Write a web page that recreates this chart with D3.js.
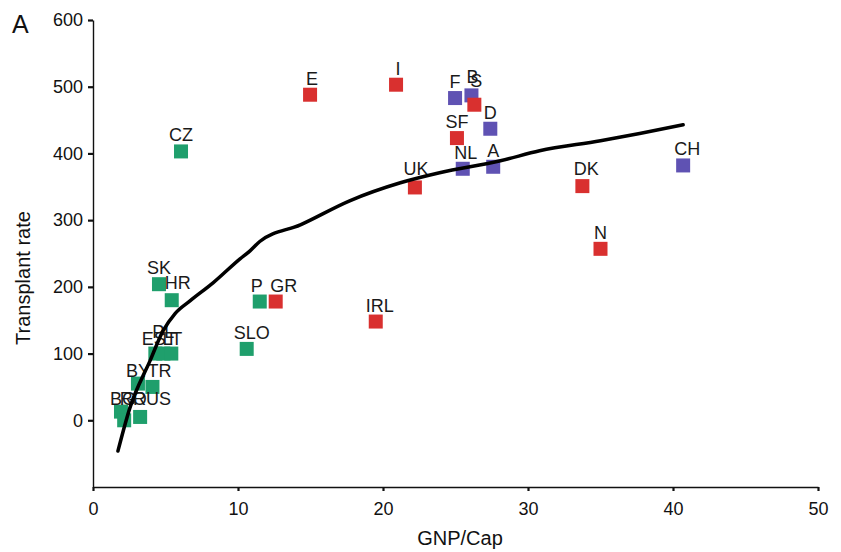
<!DOCTYPE html>
<html>
<head>
<meta charset="utf-8">
<script src="https://cdn.jsdelivr.net/npm/d3@7"></script>
<style>
  html, body { margin: 0; padding: 0; background: #fff; }
  svg { display: block; font-family: "Liberation Sans", Arial, Helvetica, sans-serif; }
</style>
</head>
<body>
<svg id="chart" width="841" height="552"></svg>
<script>
// ---- data ----
const countries = ["E","I","F","B","S","D","SF","NL","A","UK","DK","N","CH",
                   "CZ","SK","HR","P","GR","SLO","IRL",
                   "EST","PL","LT","BY","TR","BG","RO","RUS"];
const gnp   = [14.97, 20.9, 24.97, 26.1, 26.3, 27.4, 25.1, 25.5, 27.6, 22.2, 33.75, 35.0, 40.7,
               6.07, 4.55, 5.43, 11.5, 12.6, 10.6, 19.5,
               4.3, 4.85, 5.4, 3.1, 4.1, 1.93, 2.15, 3.25];
const rate  = [488, 503, 483, 487, 473, 437, 423, 377, 380, 349, 351, 257, 382,
               403, 204, 180, 178, 178, 107, 148,
               100, 100, 100, 55, 50, 13, 0, 5];
const group = ["red","red","blue","blue","red","blue","red","blue","blue","red","red","red","blue",
               "green","green","green","green","red","green","red",
               "green","green","green","green","green","green","green","green"];
const groupColor = { red: "#d9302f", green: "#1f9f6c", blue: "#5f52b3" };

// fitted curve
const curveX = [1.72, 2.55, 3.93, 4.83, 5.66, 6.69, 8.28, 10.14, 10.83, 11.5, 14.3, 17.7, 21.2, 23.9, 28.1, 30.8, 35.0, 37.7, 40.7];
const curveY = [-46, 19, 89, 134, 160, 179, 206, 242, 254, 268, 293, 329, 356, 371, 389, 404, 419, 430, 443];

const xTicks = [0, 10, 20, 30, 40, 50];
const yTicks = [0, 100, 200, 300, 400, 500, 600];

// label nudges (layout only, px)
const labelNudge = {
  E: [2, 0], I: [2, 0], B: [1, -2], S: [2, -8], NL: [3, 0], DK: [4, -1], CH: [4, 0],
  P: [-3, 0], GR: [8, 0], IRL: [4, 0], SLO: [5, 0], HR: [6, -1], UK: [1, -2],
  EST: [4, 1], PL: [0, -6], LT: [1, 1], BY: [0, 3], TR: [7, 0],
  BG: [2, 3], RO: [9, -5], RUS: [12, -2]
};

// ---- chart ----
const svg = d3.select("#chart");
const x = d3.scaleLinear().domain([0, 50]).range([93, 818]);
const y = d3.scaleLinear().domain([-100, 600]).range([487, 20]);

// axes
const xAxis = svg.append("g")
  .attr("transform", `translate(0,${y(-100)})`)
  .call(d3.axisBottom(x).tickValues(xTicks).tickSize(4).tickSizeOuter(0).tickPadding(11));
const yAxis = svg.append("g")
  .attr("transform", `translate(${x(0)},0)`)
  .call(d3.axisLeft(y).tickValues(yTicks).tickSize(5).tickSizeOuter(0).tickPadding(5));
[xAxis, yAxis].forEach(g => {
  g.select(".domain").attr("stroke", "#111").attr("stroke-width", 1.4);
  g.selectAll(".tick line").attr("stroke", "#111").attr("stroke-width", 2.2);
  g.selectAll(".tick text").attr("fill", "#111")
    .style("font-size", "18px").style("font-family", "'Liberation Sans', Arial, sans-serif");
});

// titles
svg.append("text").attr("x", 460).attr("y", 545).attr("text-anchor", "middle")
  .attr("fill", "#111").style("font-size", "20px").text("GNP/Cap");
svg.append("text").attr("transform", "translate(30,278) rotate(-90)").attr("text-anchor", "middle")
  .attr("fill", "#111").style("font-size", "20px").text("Transplant rate");
svg.append("text").attr("x", 12).attr("y", 33).attr("fill", "#111")
  .style("font-size", "25px").text("A");

// points
const pts = countries.map((c, i) => ({ c, gx: gnp[i], r: rate[i], g: group[i] }));
const sq = 14;
svg.append("g").selectAll("rect").data(pts).join("rect")
  .attr("x", d => x(d.gx) - sq / 2)
  .attr("y", d => y(d.r) - sq / 2)
  .attr("width", sq).attr("height", sq)
  .attr("fill", d => groupColor[d.g]);

// labels
svg.append("g").selectAll("text").data(pts).join("text")
  .attr("x", d => x(d.gx) + (labelNudge[d.c] ? labelNudge[d.c][0] : 0))
  .attr("y", d => y(d.r) - 10 + (labelNudge[d.c] ? labelNudge[d.c][1] : 0))
  .attr("text-anchor", "middle")
  .attr("fill", "#1a1a1a")
  .style("font-size", "18px")
  .text(d => d.c);

// curve
const line = d3.line().x(d => x(d[0])).y(d => y(d[1])).curve(d3.curveMonotoneX);
svg.append("path")
  .datum(curveX.map((v, i) => [v, curveY[i]]))
  .attr("d", line)
  .attr("fill", "none").attr("stroke", "#000").attr("stroke-width", 3.5)
  .attr("stroke-linecap", "round");
</script>
</body>
</html>
